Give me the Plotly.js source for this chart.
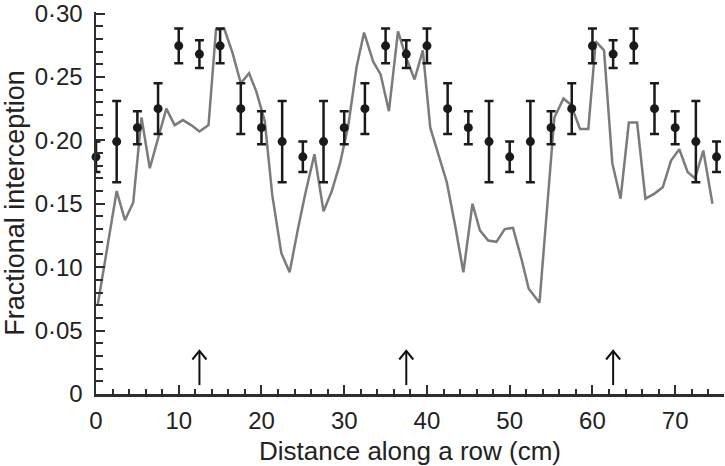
<!DOCTYPE html>
<html>
<head>
<meta charset="utf-8">
<script src="https://cdn.plot.ly/plotly-3.0.1.min.js"></script>
<style>
  html, body { margin: 0; padding: 0; background: #fff; }
  #chart { width: 725px; height: 466px; }
</style>
</head>
<body>
<div id="chart"></div>
<script>
// Measured fractional interception (points with error bars)
const dotX = [0, 2.5, 5, 7.5, 10, 12.5, 15, 17.5, 20, 22.5, 25, 27.5, 30, 32.5, 35, 37.5, 40, 42.5, 45, 47.5, 50, 52.5, 55, 57.5, 60, 62.5, 65, 67.5, 70, 72.5, 75];
const dotY = [0.187, 0.199, 0.210, 0.225, 0.2745, 0.268, 0.2745, 0.225, 0.210, 0.199, 0.187, 0.199, 0.210, 0.225, 0.2745, 0.268, 0.2745, 0.225, 0.210, 0.199, 0.187, 0.199, 0.210, 0.225, 0.2745, 0.268, 0.2745, 0.225, 0.210, 0.199, 0.187];
const dotErr = [0.012, 0.032, 0.013, 0.020, 0.0137, 0.011, 0.0137, 0.020, 0.013, 0.032, 0.012, 0.032, 0.013, 0.020, 0.0137, 0.011, 0.0137, 0.020, 0.013, 0.032, 0.012, 0.032, 0.013, 0.020, 0.0137, 0.011, 0.0137, 0.020, 0.013, 0.032, 0.012];

// Modelled fractional interception (grey line)
const lineX = [0.2, 2.5, 3.5, 4.5, 5.5, 6.5, 8.5, 9.5, 10.5, 11.5, 12.5, 13.6, 14.5, 15.5, 16.5, 17.5, 18.5, 19.4, 20.4, 21.3, 22.4, 23.4, 24.4, 25.3, 26.4, 27.5, 28.5, 29.5, 30.5, 31.5, 32.4, 33.5, 34.4, 35.4, 36.5, 37.5, 38.5, 39.5, 40.4, 41.3, 42.4, 43.4, 44.4, 45.5, 46.4, 47.4, 48.4, 49.4, 50.4, 51.4, 52.3, 53.6, 54.5, 55.4, 56.5, 57.4, 58.5, 59.5, 60.4, 61.4, 62.4, 63.4, 64.4, 65.4, 66.4, 67.5, 68.5, 69.5, 70.5, 71.5, 72.4, 73.4, 74.5];
const lineY = [0.070, 0.160, 0.137, 0.151, 0.218, 0.178, 0.225, 0.212, 0.216, 0.212, 0.207, 0.212, 0.287, 0.288, 0.269, 0.245, 0.253, 0.238, 0.215, 0.157, 0.111, 0.096, 0.130, 0.158, 0.189, 0.144, 0.160, 0.182, 0.212, 0.258, 0.285, 0.262, 0.252, 0.223, 0.286, 0.265, 0.248, 0.271, 0.210, 0.190, 0.167, 0.133, 0.096, 0.150, 0.129, 0.121, 0.120, 0.130, 0.131, 0.107, 0.083, 0.072, 0.145, 0.218, 0.233, 0.228, 0.209, 0.209, 0.278, 0.271, 0.182, 0.154, 0.214, 0.214, 0.154, 0.158, 0.163, 0.184, 0.193, 0.175, 0.170, 0.192, 0.150];

// Row positions marked by arrows
const arrowX = [12.5, 37.5, 62.5];
const arrowTail = 0.007;
const arrowHead = 0.034;

// Tick labels
const xTickVals = [0, 10, 20, 30, 40, 50, 60, 70];
const xTickText = ['0', '10', '20', '30', '40', '50', '60', '70'];
const yTickVals = [0, 0.05, 0.10, 0.15, 0.20, 0.25, 0.30];
const yTickText = ['0', '0·05', '0·10', '0·15', '0·20', '0·25', '0·30'];

const FONT = 'Liberation Sans, Arial, Helvetica, sans-serif';
const AXIS = '#2e2e2e';

const traces = [
  {
    x: lineX, y: lineY, type: 'scatter', mode: 'lines',
    line: { color: '#7b7b7b', width: 2.5 },
    hoverinfo: 'skip', showlegend: false
  },
  {
    x: dotX, y: dotY, type: 'scatter', mode: 'markers',
    marker: { color: '#1a1a1a', size: 9 },
    error_y: { type: 'data', array: dotErr, visible: true, color: '#1a1a1a', thickness: 2.5, width: 4.5 },
    cliponaxis: false, showlegend: false
  }
];

const shapes = [];
arrowX.forEach(function (ax) {
  shapes.push({ type: 'line', xref: 'x', yref: 'y', x0: ax, x1: ax, y0: arrowTail, y1: arrowHead - 0.0005,
                line: { color: '#111', width: 2 } });
  shapes.push({ type: 'path', xref: 'x', yref: 'y',
                path: 'M ' + (ax - 0.85) + ' ' + (arrowHead - 0.0068) + ' L ' + ax + ' ' + arrowHead + ' L ' + (ax + 0.85) + ' ' + (arrowHead - 0.0068),
                line: { color: '#111', width: 2 } });
});

const layout = {
  width: 725, height: 466,
  margin: { l: 96, r: 1, t: 12, b: 72 },
  paper_bgcolor: '#fff', plot_bgcolor: '#fff',
  font: { family: FONT, size: 24, color: '#222' },
  showlegend: false,
  xaxis: {
    range: [0, 75.9], showgrid: false, zeroline: false,
    showline: true, linecolor: AXIS, linewidth: 2.5,
    tickmode: 'array', tickvals: xTickVals, ticktext: xTickText,
    ticks: 'inside', ticklen: 9, tickwidth: 2, tickcolor: AXIS,
    ticklabelstandoff: 4,
    minor: { tickmode: 'linear', tick0: 0, dtick: 2, ticks: 'inside', ticklen: 5, tickwidth: 2, tickcolor: AXIS },
    tickfont: { family: FONT, size: 24, color: '#222' },
    title: { text: 'Distance along a row (cm)', font: { family: FONT, size: 26, color: '#222' }, standoff: 12 },
    automargin: false,
    fixedrange: true
  },
  yaxis: {
    range: [0, 0.3012], showgrid: false, zeroline: false,
    showline: true, linecolor: AXIS, linewidth: 2.5,
    tickmode: 'array', tickvals: yTickVals, ticktext: yTickText,
    ticks: 'inside', ticklen: 9, tickwidth: 2, tickcolor: AXIS,
    ticklabelstandoff: 6, ticklabeloverflow: 'allow',
    minor: { tickmode: 'linear', tick0: 0, dtick: 0.01, ticks: 'inside', ticklen: 7, tickwidth: 2, tickcolor: AXIS },
    tickfont: { family: FONT, size: 24, color: '#222' },
    title: { text: 'Fractional interception', font: { family: FONT, size: 27, color: '#222' }, standoff: 4 },
    automargin: false,
    fixedrange: true
  },
  shapes: shapes
};

Plotly.newPlot('chart', traces, layout, { staticPlot: true, displayModeBar: false });
</script>
</body>
</html>
